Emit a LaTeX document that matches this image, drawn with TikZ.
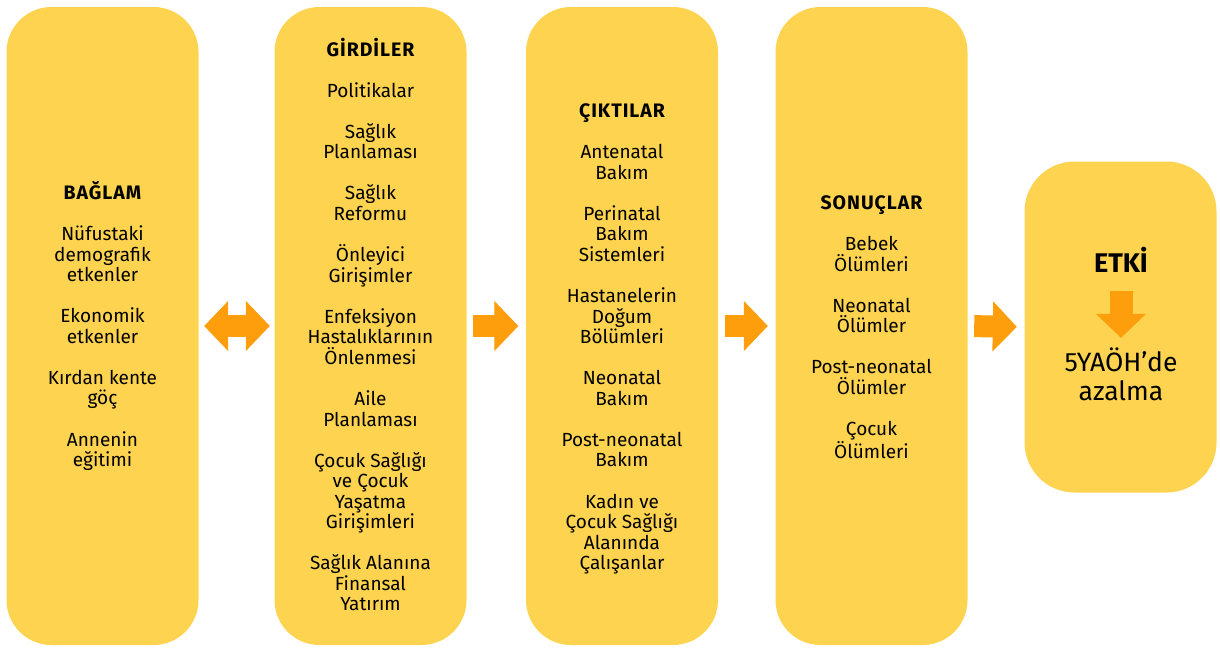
\documentclass[tikz,border=0pt]{standalone}
\usepackage{fontspec}
\setmainfont{Fira Sans}
\usetikzlibrary{arrows.meta}
\definecolor{kutusari}{RGB}{254,211,79}
\definecolor{okturuncu}{RGB}{255,158,13}
\newcommand{\baslik}[1]{{\fontsize{19.5}{20.55}\selectfont\bfseries\addfontfeature{LetterSpace=5}#1}}

\begin{document}
\begin{tikzpicture}
[x=1pt,y=-1pt,
kutu/.style={fill=kutusari,rounded corners=45pt,minimum width=192pt,inner sep=0pt},
yazi/.style={align=center,inner sep=0pt,font=\fontsize{19}{20.55}\selectfont},
okstil/.style={draw=okturuncu,line width=22pt,-{Triangle[width=50pt,length=24pt,line width=1pt]}},
ikiok/.style={okstil,{Triangle[width=50pt,length=24pt,line width=1pt]}-{Triangle[width=50pt,length=24pt,line width=1pt]}}]
\useasboundingbox (0,0) rectangle (1220,649);
% kutular
\node[kutu,minimum height=638pt] (bag) at (102.5,326) {};
\node[kutu,minimum height=638pt] (gir) at (370.5,326) {};
\node[kutu,minimum height=638pt] (cik) at (622,326) {};
\node[kutu,minimum height=638pt] (son) at (871.5,326) {};
\node[kutu,minimum height=331pt,rounded corners=50pt] (etk) at (1120.5,327) {};
% yazilar
\node[yazi] (bagy) at (102.5,326) {\baslik{BAĞLAM}\\[20.55pt]Nüfustaki\\demografik\\etkenler\\[20.55pt]Ekonomik\\etkenler\\[20.55pt]Kırdan kente\\göç\\[20.55pt]Annenin\\eğitimi};
\node[yazi] (giry) at (370.5,324.5) {\baslik{GİRDİLER}\\[20.55pt]Politikalar\\[20.55pt]Sağlık\\Planlaması\\[20.55pt]Sağlık\\Reformu\\[20.55pt]Önleyici\\Girişimler\\[20.55pt]Enfeksiyon\\Hastalıklarının\\Önlenmesi\\[20.55pt]Aile\\Planlaması\\[20.55pt]Çocuk Sağlığı\\ve Çocuk\\Yaşatma\\Girişimleri\\[20.55pt]Sağlık Alanına\\Finansal\\Yatırım};
\node[yazi] (ciky) at (622,339) {\baslik{ÇIKTILAR}\\[20.55pt]Antenatal\\Bakım\\[20.55pt]Perinatal\\Bakım\\Sistemleri\\[20.55pt]Hastanelerin\\Doğum\\Bölümleri\\[20.55pt]Neonatal\\Bakım\\[20.55pt]Post-neonatal\\Bakım\\[20.55pt]Kadın ve\\Çocuk Sağlığı\\Alanında\\Çalışanlar};
\node[yazi] (sony) at (871.5,327) {\baslik{SONUÇLAR}\\[20.55pt]Bebek\\Ölümleri\\[20.55pt]Neonatal\\Ölümler\\[20.55pt]Post-neonatal\\Ölümler\\[20.55pt]Çocuk\\Ölümleri};
\node[yazi,font=\fontsize{27}{30}\selectfont\bfseries] (etkb) at (1121,260) {ETKİ};
\node[yazi,font=\fontsize{26.5}{29}\selectfont] (etky) at (1121,374.5) {5YAÖH’de\\azalma};
% oklar
\draw[ikiok,shorten <=5.5pt,shorten >=4.5pt] (bag.east) -- (gir.west);
\foreach \a/\b in {gir/cik,cik/son,son/etk}
\draw[okstil,shorten <=6.5pt,shorten >=7.5pt] (\a.east) -- (\b.west -| \b.west);
\draw[okstil,line width=23pt,shorten <=18pt,shorten >=10pt] (etkb.south) -- (etky.north);
\end{tikzpicture}
\end{document}
